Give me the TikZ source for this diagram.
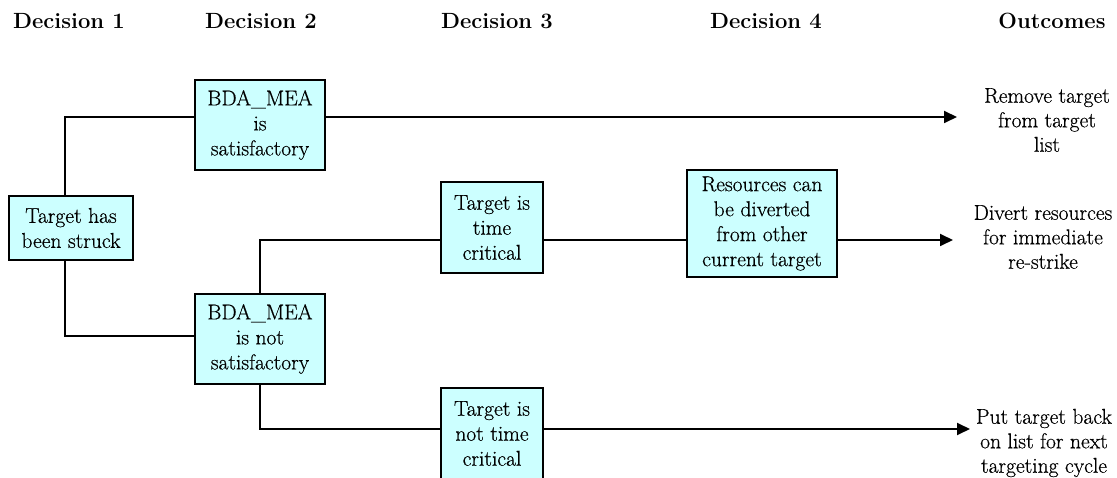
\documentclass[tikz,border=0pt]{standalone}
\usepackage{fontspec}
\newfontfamily\bodyfont{Latin Modern Roman}[FakeBold=0.5]
\usetikzlibrary{arrows.meta}
\definecolor{boxcyan}{HTML}{CCFFFF}
\begin{document}
\begin{tikzpicture}[x=1pt,y=-1pt,
  decision/.style={draw=black, line width=1.8pt, fill=boxcyan, align=center,
    inner sep=0pt, font=\bodyfont\fontsize{21.5}{25}\selectfont},
  header/.style={font=\fontsize{22}{26}\selectfont\bfseries},
  outcome/.style={align=center, font=\bodyfont\fontsize{21.5}{24.5}\selectfont},
  link/.style={line width=1.8pt},
  toout/.style={line width=1.8pt, -{Triangle[length=13pt,width=12pt]}}]
\useasboundingbox (0,0) rectangle (1117,478);

% column headings
\node[header] (h1) at (69,21) {Decision 1};
\node[header] (h2) at (261,21) {Decision 2};
\node[header] (h3) at (497,21) {Decision 3};
\node[header] (h4) at (766,21) {Decision 4};
\node[header] (h5) at (1052,21) {Outcomes};

% decision boxes
\node[decision, minimum width=124pt, minimum height=64pt] (struck) at (71,228) {Target has\\been struck};
\node[decision, minimum width=130pt, minimum height=90pt] (sat) at (260,125) {BDA\_MEA\\is\\satisfactory};
\node[decision, minimum width=130pt, minimum height=90pt] (notsat) at (260,339) {BDA\_MEA\\is not\\satisfactory};
\node[decision, minimum width=102pt, minimum height=91pt] (tc) at (492,227.5) {Target is\\time\\critical};
\node[decision, minimum width=150pt, minimum height=107pt] (res) at (762,223.5) {Resources can\\be diverted\\from other\\current target};
\node[decision, minimum width=102pt, minimum height=91pt] (ntc) at (492,433.5) {Target is\\not time\\critical};

% outcomes
\node[outcome] (rem) at (1047,120) {Remove target\\from target\\list};
\node[outcome] (div) at (1043,237) {Divert resources\\for immediate\\re-strike};
\node[outcome] (put) at (1044,443) {Put target back\\on list for next\\targeting cycle};

% arrow tips in front of the outcomes
\coordinate (remtip) at (957,117);
\coordinate (divtip) at (953,240);
\coordinate (puttip) at (970,429);

% connectors
\draw[link] ([xshift=-6pt]struck.north) |- ([yshift=8pt]sat.west);
\draw[link] ([xshift=-6pt]struck.south) |- ([yshift=3pt]notsat.west);
\draw[toout] ([yshift=8pt]sat.east) -- (remtip);
\draw[link] (notsat.north) |- ([yshift=-12.5pt]tc.west);
\draw[link] ([yshift=-12.5pt]tc.east) -- ([yshift=-12.5pt]tc.east -| res.west);
\draw[toout] (divtip -| res.east) -- (divtip);
\draw[link] (notsat.south) |- ([yshift=4.5pt]ntc.west);
\draw[toout] ([yshift=4.5pt]ntc.east) -- (puttip);
\end{tikzpicture}
\end{document}
